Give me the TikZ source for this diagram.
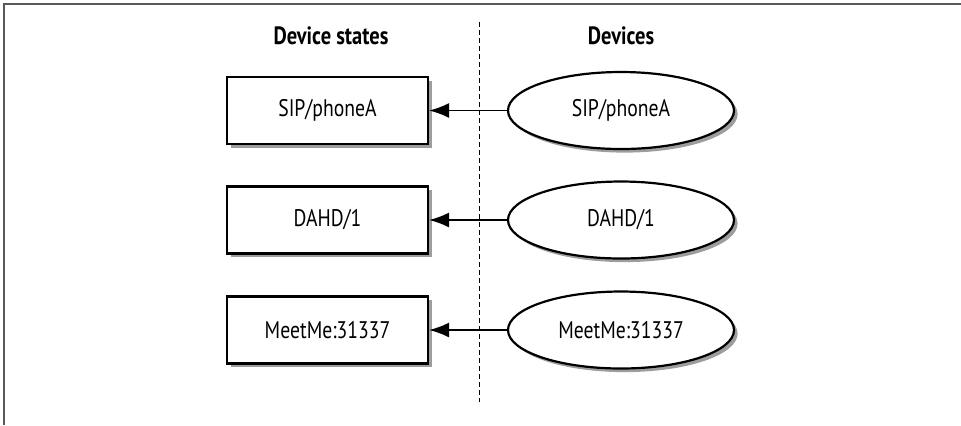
\documentclass[tikz,border=0pt]{standalone}
\usepackage{fontspec}
\setmainfont{PT Sans}[FakeStretch=0.82]
\usetikzlibrary{shapes.geometric,shadows,arrows.meta}

\tikzset{
  shade/.style={drop shadow={opacity=0.55,fill=black!70,shadow xshift=1.8pt,shadow yshift=-1.8pt}},
  statebox/.style={draw,line width=1.1pt,fill=white,minimum width=100.5pt,minimum height=33.5pt,shade},
  devnode/.style={ellipse,draw,line width=1.1pt,fill=white,minimum width=113pt,minimum height=38.5pt,shade},
  colhead/.style={font=\fontsize{12.5}{15}\selectfont\bfseries},
  feeds/.style={-{Latex[length=10pt,width=7.5pt]},line width=0.8pt},
}

\begin{document}
\begin{tikzpicture}[x=0.5pt,y=-0.5pt,font=\fontsize{12}{14}\selectfont]
\useasboundingbox (0,0) rectangle (961,425);
% Frame
\draw[black!65,line width=0.8pt] (4,425) -- (4,4) -- (961,4);
% Column heads
\node[colhead] (hstates) at (331,36) {Device states};
\node[colhead] (hdevs) at (621,36) {Devices};
% Divider
\coordinate (dtop) at (479,22);
\coordinate (dbot) at (479,402);
\draw[line width=0.5pt,dash pattern=on 2.5pt off 1.5pt] (dtop) -- (dbot);
% Rows: state on the left, device on the right
\foreach \n/\t/\y in {a/{SIP/phoneA}/110.5,b/{DAHD/1}/220,c/{MeetMe:31337}/330}{
  \node[statebox] (s\n) at (327.5,\y) {\t};
  \node[devnode] (d\n) at (621,\y) {\t};
  \draw[feeds] (d\n.west) -- (s\n.east);
}
\end{tikzpicture}
\end{document}
